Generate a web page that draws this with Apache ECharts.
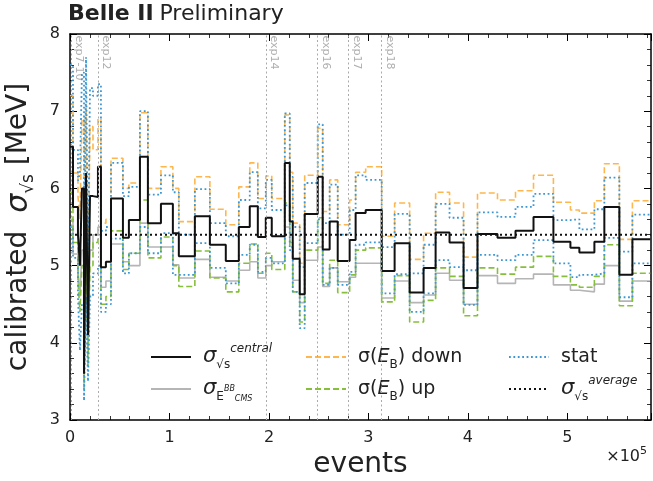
<!DOCTYPE html>
<html>
<head>
<meta charset="utf-8">
<script src="https://cdn.jsdelivr.net/npm/echarts@6/dist/echarts.min.js"></script>
<style>
html, body { margin: 0; padding: 0; background: #fff; }
#main { width: 653px; height: 481px; }
</style>
</head>
<body>
<div id="main"></div>
<script>
// bin edges, in units of 1e5 events
var edges = [0, 0.030, 0.080, 0.100, 0.120, 0.141, 0.161, 0.181, 0.201, 0.231,
  0.281, 0.311, 0.361, 0.412, 0.532, 0.592, 0.703, 0.783, 0.914, 1.034,
  1.094, 1.255, 1.406, 1.566, 1.697, 1.807, 1.888, 1.968, 2.028, 2.159,
  2.209, 2.239, 2.309, 2.359, 2.490, 2.540, 2.610, 2.691, 2.811, 2.871,
  2.972, 3.133, 3.263, 3.414, 3.554, 3.675, 3.815, 3.956, 4.096, 4.297,
  4.478, 4.659, 4.859, 5.030, 5.120, 5.271, 5.371, 5.522, 5.653, 5.833];

// sigma_sqrt(s) central [MeV]
var central = [6.54, 5.76, 5.40, 5.00, 6.00, 3.60, 6.20, 4.10, 5.90, 5.89,
  6.28, 4.98, 5.05, 5.87, 5.36, 5.59, 6.41, 5.55, 5.80, 5.42,
  5.12, 5.64, 5.27, 5.06, 5.50, 5.77, 5.37, 5.62, 5.38, 6.33,
  5.57, 5.09, 4.63, 5.67, 6.15, 5.21, 5.57, 5.06, 5.33, 5.68,
  5.72, 4.93, 5.29, 4.65, 4.97, 5.43, 5.30, 4.71, 5.41, 5.36,
  5.45, 5.63, 5.31, 5.23, 5.17, 5.31, 5.76, 4.88, 5.34];

// sigma E_CMS^BB
var bb = [5.60, 5.15, 4.95, 4.60, 5.20, 3.50, 5.30, 3.90, 5.20, 5.40,
  5.50, 4.72, 4.80, 5.28, 5.05, 5.00, 5.55, 5.24, 5.24, 5.01,
  4.84, 5.08, 4.85, 4.80, 4.94, 5.05, 4.84, 5.00, 5.05, 5.50,
  5.30, 4.81, 4.52, 5.07, 5.24, 4.73, 4.97, 4.79, 4.85, 5.03,
  5.03, 4.58, 4.80, 4.52, 4.62, 4.90, 4.81, 4.50, 4.87, 4.77,
  4.83, 4.89, 4.75, 4.68, 4.66, 4.76, 5.00, 4.54, 4.80];

// sigma(E_B) down
var ebDown = [7.20, 6.20, 5.90, 5.60, 6.90, 4.00, 7.10, 4.60, 6.80, 6.50,
  6.90, 5.55, 5.60, 6.39, 6.00, 6.07, 6.98, 6.00, 6.28, 6.00,
  5.57, 6.15, 5.73, 5.53, 6.02, 6.33, 5.87, 6.16, 5.87, 6.95,
  6.21, 5.55, 5.03, 6.17, 6.78, 5.70, 6.11, 5.53, 5.85, 6.21,
  6.28, 5.38, 5.81, 5.08, 5.42, 5.95, 5.81, 5.11, 5.94, 5.85,
  5.97, 6.17, 5.82, 5.72, 5.68, 5.84, 6.32, 5.34, 5.84];

// sigma(E_B) up
var ebUp = [5.95, 5.30, 4.80, 4.40, 5.00, 3.40, 5.20, 3.70, 5.00, 5.30,
  5.40, 4.50, 4.60, 5.45, 4.95, 5.16, 5.85, 5.10, 5.37, 5.00,
  4.73, 5.19, 4.84, 4.66, 5.03, 5.28, 4.90, 5.16, 4.95, 5.81,
  5.24, 4.66, 4.27, 5.20, 5.62, 4.77, 5.07, 4.65, 4.88, 5.20,
  5.23, 4.53, 4.87, 4.27, 4.55, 4.97, 4.86, 4.35, 4.97, 4.89,
  4.98, 5.12, 4.86, 4.75, 4.72, 4.86, 5.27, 4.48, 4.90];

// stat band, upper and lower edge
var statHi = [7.60, 6.50, 6.10, 6.20, 7.50, 4.30, 7.70, 5.00, 7.30, 7.20,
  7.35, 5.45, 5.50, 6.33, 5.90, 6.02, 7.00, 5.92, 6.17, 5.95,
  5.40, 5.99, 5.55, 5.38, 5.85, 6.21, 5.74, 6.11, 5.72, 6.97,
  6.15, 5.50, 4.98, 6.07, 6.83, 5.55, 6.05, 5.40, 5.72, 6.17,
  6.11, 5.24, 5.67, 4.90, 5.27, 5.80, 5.62, 4.94, 5.69, 5.63,
  5.76, 5.93, 5.59, 5.60, 5.47, 5.73, 6.14, 5.18, 5.66];
var statLo = [5.50, 5.10, 4.60, 3.90, 4.50, 3.25, 4.60, 3.50, 4.60, 4.90,
  5.00, 4.40, 4.50, 5.35, 4.90, 5.16, 5.50, 5.16, 5.42, 4.88,
  4.88, 5.29, 4.97, 4.77, 5.14, 5.27, 4.92, 5.10, 5.03, 5.78,
  5.20, 4.66, 4.19, 5.29, 5.60, 4.75, 4.97, 4.75, 4.92, 5.27,
  5.30, 4.64, 4.89, 4.40, 4.64, 5.07, 4.98, 4.49, 5.14, 5.07,
  5.14, 5.33, 5.03, 4.85, 4.88, 4.90, 5.36, 4.59, 5.03];

var average = 5.40;

var expNames = ['exp7-10', 'exp12', 'exp14', 'exp16', 'exp17', 'exp18'];
var expPos = [0.01, 0.278, 1.968, 2.490, 2.800, 3.133];

var xMax = 5.84;
var font = 'DejaVu Sans';

function steps(vals) {
  var d = vals.map(function (v, i) { return [edges[i], v]; });
  d.push([edges[edges.length - 1], vals[vals.length - 1]]);
  return d;
}

function stepSeries(name, vals, color, width, type) {
  return {
    name: name, type: 'line', step: 'end', data: steps(vals),
    symbol: 'none', silent: true,
    lineStyle: { color: color, width: width, type: type },
    itemStyle: { color: color }
  };
}

var legendLabels = {
  central: '{s|σ}{sub|√s}{sup|central}',
  bb: '{s|σ}{sub|E}{tsup|BB}{tsub|CMS}',
  down: '{n|σ(}{i|E}{sub|B}{n|) down}',
  up: '{n|σ(}{i|E}{sub|B}{n|) up}',
  stat: '{n|stat}',
  average: '{s|σ}{sub|√s}{sup|average}'
};

var legendRich = {
  s: { fontSize: 21, fontStyle: 'italic', lineHeight: 28, fontFamily: font, color: '#222' },
  n: { fontSize: 19, lineHeight: 28, fontFamily: font, color: '#222' },
  i: { fontSize: 19, fontStyle: 'italic', lineHeight: 28, fontFamily: font, color: '#222' },
  sub: { fontSize: 12, lineHeight: 12, verticalAlign: 'bottom', fontFamily: font, color: '#222' },
  sup: { fontSize: 12, fontStyle: 'italic', lineHeight: 12, verticalAlign: 'top', fontFamily: font, color: '#222' },
  tsup: { fontSize: 8, fontStyle: 'italic', lineHeight: 14, verticalAlign: 'middle', fontFamily: font, color: '#222' },
  tsub: { fontSize: 8, fontStyle: 'italic', lineHeight: 8, verticalAlign: 'bottom', fontFamily: font, color: '#222' }
};

function makeLegend(left, names) {
  return {
    orient: 'vertical', left: left, top: 343, padding: 0, itemGap: 4,
    itemWidth: 40, itemHeight: 14, data: names,
    itemStyle: { opacity: 0 },
    formatter: function (n) { return legendLabels[n]; },
    textStyle: { fontFamily: font, fontSize: 19, lineHeight: 28, padding: [0, 0, 0, 7], rich: legendRich }
  };
}

function axisCommon() {
  return {
    axisLine: { onZero: false, lineStyle: { color: '#000', width: 1.5 } },
    axisTick: { inside: true, length: 7, lineStyle: { color: '#000', width: 1 } },
    minorTick: { show: true, splitNumber: 5, length: 4, lineStyle: { color: '#000', width: 0.8 } },
    splitLine: { show: false },
    minorSplitLine: { show: false }
  };
}

var myChart = echarts.init(document.getElementById('main'));

var xBottom = Object.assign(axisCommon(), {
  type: 'value', min: 0, max: xMax, interval: 1, position: 'bottom',
  name: 'events', nameLocation: 'middle', nameGap: 30,
  nameTextStyle: { fontFamily: font, fontSize: 28, color: '#222' },
  axisLabel: { fontFamily: font, fontSize: 16, color: '#222', margin: 10, showMaxLabel: false }
});
var xTop = Object.assign(axisCommon(), {
  type: 'value', min: 0, max: xMax, interval: 1, position: 'top',
  axisLabel: { show: false }
});
var yLeft = Object.assign(axisCommon(), {
  type: 'value', min: 3, max: 8, interval: 1, position: 'left',
  name: 'calibrated  {s|σ}{sub|√s} [MeV]', nameLocation: 'middle', nameGap: 33, nameRotate: 90,
  nameTextStyle: {
    fontFamily: font, fontSize: 28, color: '#222', lineHeight: 36,
    rich: {
      s: { fontFamily: font, fontSize: 30, fontStyle: 'italic', lineHeight: 36, color: '#222' },
      sub: { fontFamily: font, fontSize: 17, lineHeight: 16, verticalAlign: 'bottom', color: '#222' }
    }
  },
  axisLabel: { fontFamily: font, fontSize: 16, color: '#222', margin: 10 }
});
var yRight = Object.assign(axisCommon(), {
  type: 'value', min: 3, max: 8, interval: 1, position: 'right',
  axisLabel: { show: false }
});

var option = {
  animation: false,
  backgroundColor: '#fff',
  textStyle: { fontFamily: font },
  title: {
    text: '{b|Belle II} {n|Preliminary}', left: 68, top: 3, padding: 0,
    textStyle: {
      fontWeight: 'normal',
      rich: {
        b: { fontFamily: font, fontSize: 22, fontWeight: 'bold', color: '#222' },
        n: { fontFamily: font, fontSize: 22, fontWeight: 'normal', color: '#222' }
      }
    }
  },
  grid: { left: 70, right: 2, top: 34, bottom: 61, outerBoundsMode: 'none' },
  legend: [
    makeLegend(150, ['central', 'bb']),
    makeLegend(305, ['down', 'up']),
    makeLegend(508, ['stat', 'average'])
  ],
  xAxis: [xBottom, xTop],
  yAxis: [yLeft, yRight],
  graphic: [{
    type: 'text', right: 6, top: 446,
    style: {
      text: '{n|×10}{p|5}',
      rich: {
        n: { fontFamily: font, fontSize: 16, lineHeight: 22, fill: '#222' },
        p: { fontFamily: font, fontSize: 11, lineHeight: 12, verticalAlign: 'top', fill: '#222' }
      }
    }
  }],
  series: [
    {
      name: 'exp', type: 'scatter', silent: true, symbolSize: 1,
      itemStyle: { color: 'rgba(0,0,0,0)' },
      data: expPos.map(function (x, i) { return { value: [x, 8], name: expNames[i] }; }),
      label: {
        show: true, formatter: '{b}', rotate: -90, position: [3, 2],
        align: 'left', verticalAlign: 'bottom',
        fontFamily: font, fontSize: 11, color: '#9a9a9a'
      },
      markLine: {
        silent: true, symbol: ['none', 'none'], label: { show: false },
        lineStyle: { color: '#aaaaaa', type: [2, 2.5], width: 1 },
        data: expPos.map(function (x) { return { xAxis: x }; })
      }
    },
    stepSeries('bb', bb, '#b5b5b5', 1.6, 'solid'),
    stepSeries('down', ebDown, '#fdb74e', 1.6, [6, 3]),
    stepSeries('up', ebUp, '#86bf3c', 1.6, [6, 3]),
    stepSeries('stat', statHi, '#3d97d3', 1.8, [1.8, 2.6]),
    stepSeries('stat', statLo, '#3d97d3', 1.8, [1.8, 2.6]),
    stepSeries('central', central, '#111111', 2, 'solid'),
    {
      name: 'average', type: 'line', symbol: 'none', silent: true,
      data: [[0, average], [xMax, average]],
      lineStyle: { color: '#111111', width: 2, type: [2, 3] },
      itemStyle: { color: '#111111' }
    }
  ]
};

myChart.setOption(option);
</script>
</body>
</html>
